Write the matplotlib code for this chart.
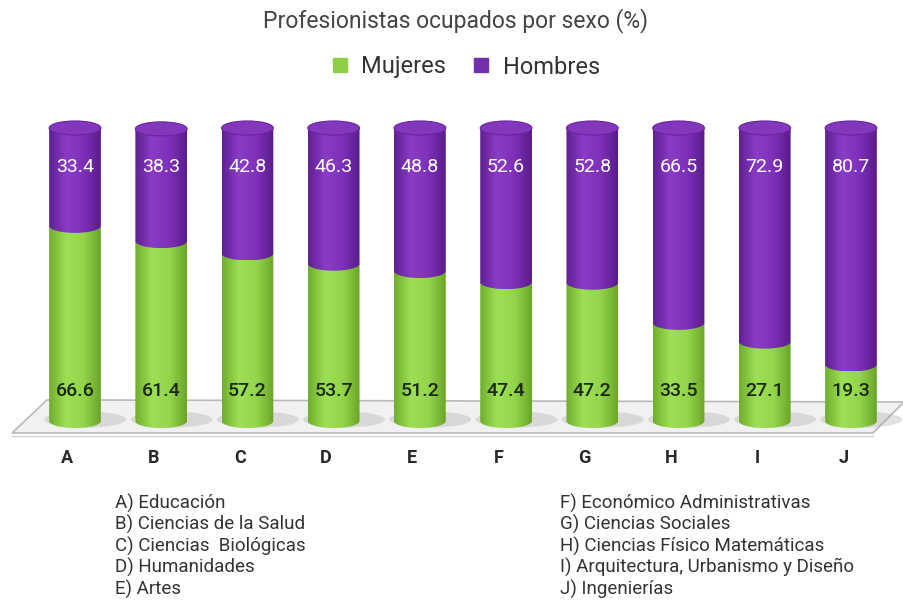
import numpy as np
import matplotlib.pyplot as plt
from matplotlib.path import Path
from matplotlib.patches import PathPatch, Ellipse, Polygon
from matplotlib.colors import LinearSegmentedColormap

plt.rcParams['font.family'] = ['Roboto', 'DejaVu Sans']

# data
categorias = ['A', 'B', 'C', 'D', 'E', 'F', 'G', 'H', 'I', 'J']
mujeres = [66.6, 61.4, 57.2, 53.7, 51.2, 47.4, 47.2, 33.5, 27.1, 19.3]
hombres = [33.4, 38.3, 42.8, 46.3, 48.8, 52.6, 52.8, 66.5, 72.9, 80.7]
notas_izq = ['A) Educación', 'B) Ciencias de la Salud', 'C) Ciencias  Biológicas',
             'D) Humanidades', 'E) Artes']
notas_der = ['F) Económico Administrativas', 'G) Ciencias Sociales',
             'H) Ciencias Físico Matemáticas', 'I) Arquitectura, Urbanismo y Diseño',
             'J) Ingenierías']

verde = '#8dcf45'
morado = '#7330ad'
cmap_verde = LinearSegmentedColormap.from_list('v', ['#6fae2c', '#9ee055', '#93d64b', '#6aa527'])
cmap_morado = LinearSegmentedColormap.from_list('m', ['#5f1f92', '#8a3cc6', '#7d30b8', '#5a1b8a'])

W = 0.60      # cylinder width (category units)
EH = 2.4      # half height of the end ellipses (percent units)

fig = plt.figure(figsize=(9.04, 6.03), dpi=100)
ax = fig.add_axes([0, 0, 1, 1])
ax.axis('off')


def segmento(ax, x, y0, y1, cmap, z):
    a = W / 2
    t = np.linspace(np.pi, 2 * np.pi, 60)
    verts = [(x - a, y1), (x - a, y0)]
    verts += list(zip(x + a * np.cos(t), y0 + EH * np.sin(t)))
    verts += [(x + a, y1), (x - a, y1), (x - a, y1)]
    codes = [Path.MOVETO] + [Path.LINETO] * (len(verts) - 2) + [Path.CLOSEPOLY]
    patch = PathPatch(Path(verts, codes), facecolor='none', edgecolor='none', zorder=z)
    ax.add_patch(patch)
    grad = np.linspace(0, 1, 256).reshape(1, -1)
    im = ax.imshow(grad, cmap=cmap, aspect='auto', zorder=z,
                   extent=[x - a, x + a, y0 - EH, y1 + EH], interpolation='bilinear')
    im.set_clip_path(patch)


# floor
piso = Polygon([(-0.73, -4.1), (-0.325, 7.2), (9.615, 6.5), (9.255, -4.1)],
               closed=True, facecolor='#f1f1f1', edgecolor='#b9b9b9', lw=1.2, zorder=1)
ax.add_patch(piso)
ax.plot([-0.73, 9.255], [-5.0, -5.0], color='#d4d4d4', lw=1.0, zorder=1)

for i, (m, h) in enumerate(zip(mujeres, hombres)):
    ax.add_patch(Ellipse((i + 0.12, 0.5), 0.95, 5.5, facecolor='#a0a0a0',
                         edgecolor='none', alpha=0.3, zorder=2))
    segmento(ax, i, 0, m, cmap_verde, 3)
    segmento(ax, i, m, m + h, cmap_morado, 4)
    ax.add_patch(Ellipse((i, m + h), W, 2 * EH, facecolor='#8237bd',
                         edgecolor='#6b24a0', lw=0.8, zorder=5))
    ax.text(i, 86.7, f'{h:.1f}', ha='center', va='center', color='white',
            fontsize=14, zorder=6)
    ax.text(i, 10.2, f'{m:.1f}', ha='center', va='center', color='#1a2a10',
            fontsize=14, fontweight='medium', zorder=6)
    ax.text(i - 0.09, -12.6, categorias[i], ha='center', va='center',
            color='#2a2a2a', fontsize=13, fontweight='bold', zorder=6)

ax.set_xlim(-0.870, 9.615)
ax.set_ylim((421 - 603) / 2.93, 421 / 2.93)

fig.text(456 / 904, 1 - 21 / 603, 'Profesionistas ocupados por sexo (%)', ha='center',
         va='center', fontsize=16.5, color='#444444')
h1 = plt.Line2D([], [], marker='s', ls='none', color=verde, markersize=10)
h2 = plt.Line2D([], [], marker='s', ls='none', color=morado, markersize=10)
fig.legend([h1, h2], ['Mujeres', 'Hombres'], loc='center', ncol=2,
           bbox_to_anchor=(464 / 904, 1 - 67 / 603), frameon=False, fontsize=17,
           handletextpad=0.4, columnspacing=1.0, handlelength=1.0,
           labelcolor='#333333')

for k, s in enumerate(notas_izq):
    fig.text(115 / 904, 1 - (503 + 21.5 * k) / 603, s, ha='left', va='center',
             fontsize=13.5, color='#333333')
for k, s in enumerate(notas_der):
    fig.text(560 / 904, 1 - (503 + 21.5 * k) / 603, s, ha='left', va='center',
             fontsize=13.5, color='#333333')

fig.savefig('out.png', dpi=100)
